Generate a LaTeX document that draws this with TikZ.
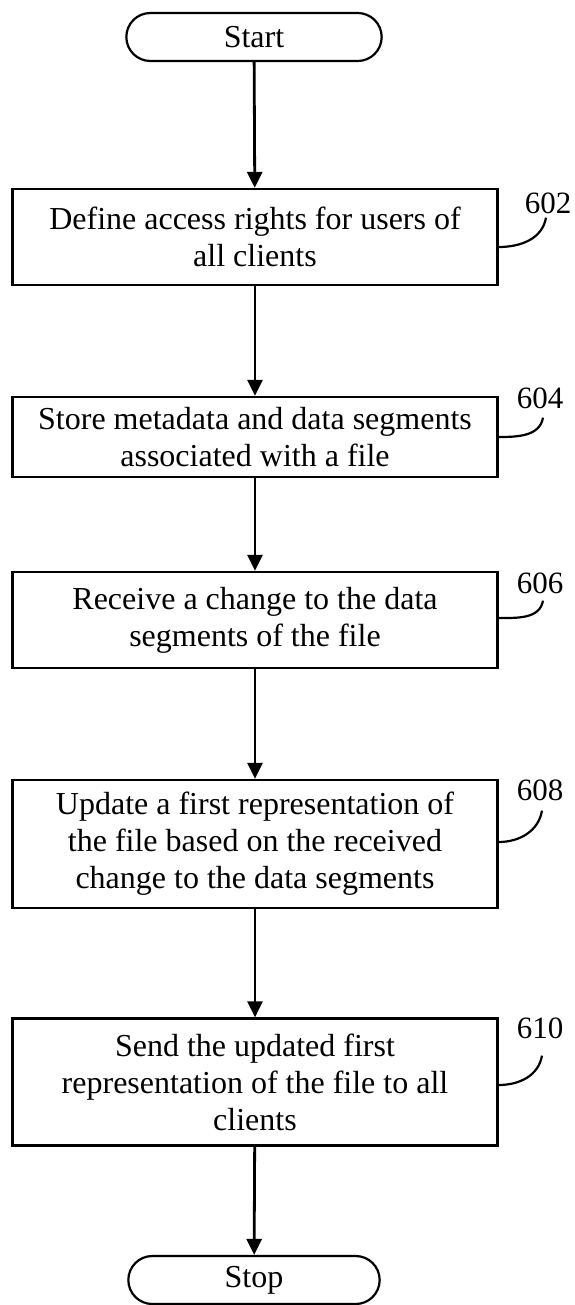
\documentclass[tikz,border=0pt]{standalone}
\usepackage{fontspec}
\setmainfont{Liberation Serif}
\usepackage{tikz}
\usetikzlibrary{calc, arrows.meta, shapes.misc}

\tikzset{
    stepbox/.style={draw, line width=2.2pt, minimum width=485pt, align=center,
        font=\fontsize{32}{37}\selectfont},
    term/.style={draw, line width=2.2pt, rounded rectangle, minimum height=48pt,
        font=\fontsize{32}{37}\selectfont},
    flow/.style={line width=2.8pt, -{Triangle[length=16pt,width=15pt]}},
    lead/.style={line width=2.2pt},
    refnum/.style={font=\fontsize{31}{36}\selectfont, inner sep=0pt}
}

\begin{document}
\begin{tikzpicture}[x=1pt,y=1pt]
        \useasboundingbox (0,0) rectangle (574,-1305);

        \node[term, minimum width=262pt] (start) at (254,-37) {Start};
        \node[stepbox, minimum height=96pt] (b602) at (255,-237)
            {Define access rights for users of\\all clients};
        \node[stepbox, minimum height=80pt] (b604) at (255,-437)
            {Store metadata and data segments\\associated with a file};
        \node[stepbox, minimum height=96pt] (b606) at (255,-620)
            {Receive a change to the data\\segments of the file};
        \node[stepbox, minimum height=128pt] (b608) at (255,-844)
            {Update a first representation of\\the file based on the received\\change to the data segments};
        \node[stepbox, minimum height=127pt] (b610) at (255,-1082)
            {Send the updated first\\representation of the file to all\\clients};
        \node[term, minimum width=258pt] (stop) at (254,-1280) {Stop};

        \node[refnum] (l602) at (548,-203) {602};
        \node[refnum] (l604) at (540,-398) {604};
        \node[refnum] (l606) at (540,-583) {606};
        \node[refnum] (l608) at (540,-790) {608};
        \node[refnum] (l610) at (540,-1028) {610};

        \draw[flow] (start) -- (b602);
        \draw[flow] (b602) -- (b604);
        \draw[flow] (b604) -- (b606);
        \draw[flow] (b606) -- (b608);
        \draw[flow] (b608) -- (b610);
        \draw[flow] (b610) -- (stop);

        \draw[lead] ([yshift=-10pt]b602.east) to[out=0,in=-100] ($(l602.south)+(-2,-4)$);
        \draw[lead] (b604.east) to[out=0,in=-100] ($(l604.south)+(3,-9)$);
        \draw[lead] ([yshift=2pt]b606.east) to[out=0,in=-100] ($(l606.south)+(3,-7)$);
        \draw[lead] ([yshift=2pt]b608.east) to[out=0,in=-100] ($(l608.south)+(2,-10)$);
        \draw[lead] ([yshift=-3pt]b610.east) to[out=0,in=-100] ($(l610.south)+(2,-17)$);
    \end{tikzpicture}
\end{document}
